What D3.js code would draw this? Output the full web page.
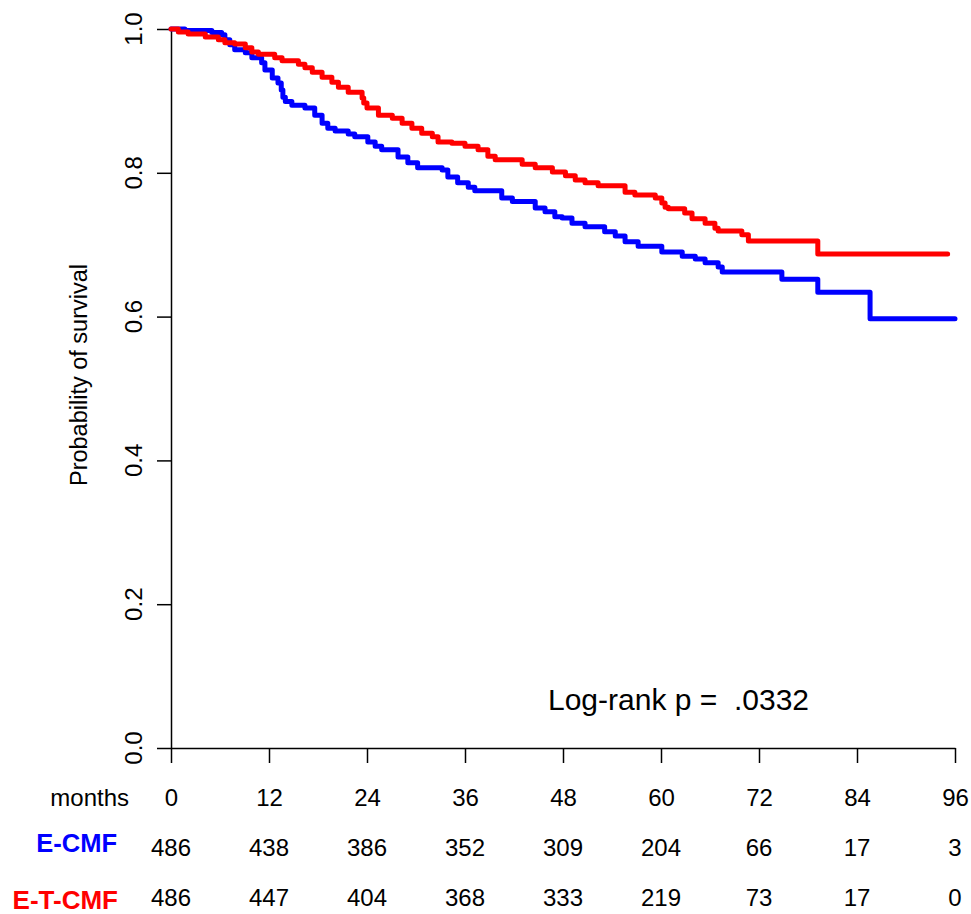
<!DOCTYPE html>
<html>
<head>
<meta charset="utf-8">
<script src="https://cdn.jsdelivr.net/npm/d3@7"></script>
<style>
  body { margin: 0; background: #fff; }
  svg { display: block; font-family: "Liberation Sans", Arial, sans-serif; }
</style>
</head>
<body>
<svg width="971" height="914"></svg>
<script>
// months at risk table
var months = [0, 12, 24, 36, 48, 60, 72, 84, 96];
var riskECMF = [486, 438, 386, 352, 309, 204, 66, 17, 3];
var riskETCMF = [486, 447, 404, 368, 333, 219, 73, 17, 0];
var yTicks = [0, 0.2, 0.4, 0.6, 0.8, 1.0];

// Kaplan-Meier steps: time (months) -> survival after the drop
var ecmfTime = [0, 1.7, 5.0, 6.2, 6.6, 7.2, 7.8, 9.1, 9.9, 11.1, 11.5, 12.4, 13.1, 13.5, 13.7, 14.0,
  14.8, 16.4, 17.6, 18.5, 19.2, 20.1, 21.7, 22.5, 24.1, 25.0, 25.8, 27.8, 29.0, 30.2, 33.2, 33.9,
  35.1, 36.4, 37.2, 40.5, 41.8, 44.6, 45.8, 47.0, 47.9, 49.1, 50.7, 53.1, 54.4, 55.6, 57.2, 60.1,
  62.6, 64.2, 65.4, 67.0, 67.5, 74.8, 79.2, 85.6];
var ecmfSurv = [1.000, 0.998, 0.995, 0.992, 0.985, 0.978, 0.971, 0.967, 0.960, 0.953, 0.943, 0.932,
  0.925, 0.915, 0.905, 0.899, 0.894, 0.890, 0.880, 0.869, 0.862, 0.858, 0.854, 0.850, 0.843, 0.837,
  0.832, 0.822, 0.814, 0.807, 0.804, 0.794, 0.786, 0.780, 0.775, 0.765, 0.760, 0.751, 0.746, 0.739,
  0.737, 0.730, 0.725, 0.718, 0.712, 0.704, 0.698, 0.690, 0.684, 0.680, 0.675, 0.669, 0.662, 0.652,
  0.634, 0.597];
var ecmfEnd = 96;

var etcmfTime = [0, 0.9, 2.1, 4.2, 5.8, 6.6, 7.8, 9.1, 9.9, 10.7, 12.7, 13.6, 15.6, 16.4, 17.3, 18.5,
  19.7, 20.5, 21.7, 23.4, 23.6, 24.0, 25.4, 27.1, 28.3, 29.5, 30.7, 32.0, 32.7, 34.4, 36.0, 37.6,
  38.8, 39.7, 43.0, 44.6, 46.7, 48.3, 49.5, 50.7, 52.3, 55.6, 56.8, 59.3, 60.1, 60.5, 60.9, 62.9,
  63.8, 65.4, 66.6, 67.0, 69.9, 70.7, 79.2];
var etcmfSurv = [1.000, 0.996, 0.993, 0.989, 0.985, 0.981, 0.979, 0.974, 0.968, 0.965, 0.960, 0.956,
  0.951, 0.946, 0.940, 0.933, 0.926, 0.919, 0.912, 0.904, 0.897, 0.890, 0.880, 0.876, 0.869, 0.862,
  0.855, 0.850, 0.843, 0.841, 0.837, 0.832, 0.823, 0.818, 0.812, 0.807, 0.801, 0.796, 0.790, 0.786,
  0.782, 0.773, 0.769, 0.765, 0.758, 0.752, 0.750, 0.744, 0.736, 0.730, 0.723, 0.719, 0.714, 0.705,
  0.687];
var etcmfEnd = 95.1;

var svg = d3.select("svg");
var x = d3.scaleLinear().domain([0, 96]).range([171, 955]);
var y = d3.scaleLinear().domain([0, 1]).range([748, 29]);

function steps(times, surv, end) {
  var pts = times.map(function(t, i) { return [t, surv[i]]; });
  pts.push([end, surv[surv.length - 1]]);
  return pts;
}

var line = d3.line()
  .curve(d3.curveStepAfter)
  .x(function(d) { return x(d[0]); })
  .y(function(d) { return y(d[1]); });

// axes
var xAxis = d3.axisBottom(x).tickValues(months).tickSize(15).tickSizeOuter(0).tickPadding(26);
var gx = svg.append("g").attr("transform", "translate(0,748)").call(xAxis);
gx.selectAll("text").attr("font-size", 24).attr("fill", "#000").attr("font-family", "Liberation Sans, Arial, sans-serif");

var yAxis = d3.axisLeft(y).tickValues(yTicks).tickSize(14).tickSizeOuter(0).tickFormat("");
var gy = svg.append("g").attr("transform", "translate(171,0)").call(yAxis);

svg.selectAll(".domain, .tick line").attr("stroke", "#000").attr("stroke-width", 1.5);

svg.append("g").selectAll("text")
  .data(yTicks)
  .enter().append("text")
  .attr("transform", function(d) { return "translate(142," + y(d) + ") rotate(-90)"; })
  .attr("text-anchor", "middle")
  .attr("font-size", 24)
  .text(function(d) { return d3.format(".1f")(d); });

svg.append("text")
  .attr("transform", "translate(87,375) rotate(-90)")
  .attr("text-anchor", "middle")
  .attr("font-size", 23.5)
  .text("Probability of survival");

// curves
svg.append("path")
  .datum(steps(ecmfTime, ecmfSurv, ecmfEnd))
  .attr("d", line)
  .attr("fill", "none")
  .attr("stroke", "#0000ff")
  .attr("stroke-width", 5)
  .attr("stroke-linejoin", "round")
  .attr("stroke-linecap", "round");

svg.append("path")
  .datum(steps(etcmfTime, etcmfSurv, etcmfEnd))
  .attr("d", line)
  .attr("fill", "none")
  .attr("stroke", "#ff0000")
  .attr("stroke-width", 5)
  .attr("stroke-linejoin", "round")
  .attr("stroke-linecap", "round");

svg.append("text")
  .attr("x", 548).attr("y", 710)
  .attr("font-size", 30)
  .attr("xml:space", "preserve")
  .style("white-space", "pre")
  .text("Log-rank p =  .0332");

// at-risk table
svg.append("text").attr("x", 129).attr("y", 806).attr("text-anchor", "end")
  .attr("font-size", 24).text("months");

svg.append("text").attr("x", 117).attr("y", 852).attr("text-anchor", "end")
  .attr("font-size", 25.5).attr("font-weight", "bold").attr("fill", "#0000ff").text("E-CMF");
svg.append("text").attr("x", 118).attr("y", 909).attr("text-anchor", "end")
  .attr("font-size", 26).attr("font-weight", "bold").attr("fill", "#ff0000").text("E-T-CMF");

svg.append("g").selectAll("text")
  .data(riskECMF)
  .enter().append("text")
  .attr("x", function(d, i) { return x(months[i]); })
  .attr("y", 856)
  .attr("text-anchor", "middle")
  .attr("font-size", 24)
  .text(function(d) { return d; });

svg.append("g").selectAll("text")
  .data(riskETCMF)
  .enter().append("text")
  .attr("x", function(d, i) { return x(months[i]); })
  .attr("y", 906)
  .attr("text-anchor", "middle")
  .attr("font-size", 24)
  .text(function(d) { return d; });
</script>
</body>
</html>
